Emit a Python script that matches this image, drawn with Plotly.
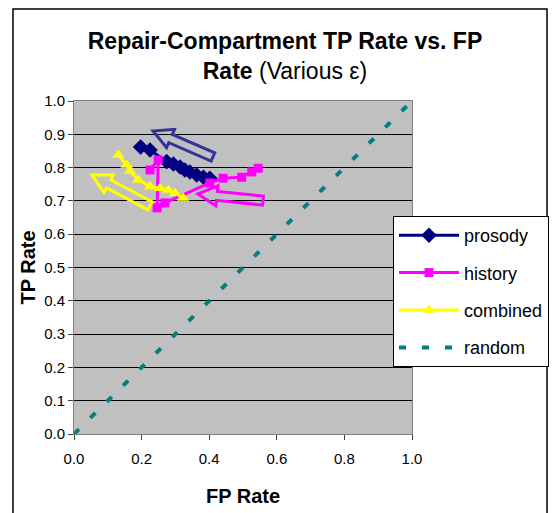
import plotly.graph_objects as go

# --- data ---
prosody_fp = [0.197, 0.225, 0.274, 0.294, 0.314, 0.328, 0.343, 0.363, 0.383, 0.402]
prosody_tp = [0.862, 0.853, 0.818, 0.811, 0.802, 0.793, 0.787, 0.778, 0.771, 0.768]

history_fp = [0.225, 0.249, 0.246, 0.269, 0.402, 0.441, 0.496, 0.526, 0.545]
history_tp = [0.793, 0.823, 0.679, 0.694, 0.754, 0.768, 0.771, 0.787, 0.798]

combined_fp = [0.131, 0.156, 0.166, 0.190, 0.225, 0.254, 0.279, 0.299, 0.323]
combined_tp = [0.838, 0.808, 0.790, 0.763, 0.743, 0.738, 0.733, 0.723, 0.709]

random_fp = [0.0, 1.0]
random_tp = [0.0, 1.0]

x_ticks = [0.0, 0.2, 0.4, 0.6, 0.8, 1.0]
y_ticks = [0.0, 0.1, 0.2, 0.3, 0.4, 0.5, 0.6, 0.7, 0.8, 0.9, 1.0]

# hollow arrows drawn on the chart: (tip, tail) in data units, colour
arrows = [
    ((0.234, 0.910), (0.411, 0.832), "#333399"),
    ((0.367, 0.721), (0.559, 0.701), "#FF00FF"),
    ((0.053, 0.778), (0.225, 0.685), "#FFFF00"),
]

# page body adds 8px, so figure pixels = screen pixels - 8
W_FIG, H_FIG = 557, 513
L, R, T, B = 66, 404, 93, 426
PW, PH = R - L, B - T

FONT = "Liberation Sans, Arial, sans-serif"

fig = go.Figure()

fig.add_trace(go.Scatter(x=prosody_fp, y=prosody_tp, name="prosody", mode="lines+markers",
                         line=dict(color="#000080", width=3),
                         marker=dict(symbol="diamond", size=12, color="#000080"),
                         legendgroup="a"))
fig.add_trace(go.Scatter(x=history_fp, y=history_tp, name="history", mode="lines+markers",
                         line=dict(color="#FF00FF", width=3),
                         marker=dict(symbol="square", size=9, color="#FF00FF"),
                         legendgroup="b"))
fig.add_trace(go.Scatter(x=combined_fp, y=combined_tp, name="combined", mode="lines+markers",
                         line=dict(color="#FFFF00", width=3),
                         marker=dict(symbol="triangle-up", size=11, color="#FFFF00"),
                         legendgroup="c"))
fig.add_trace(go.Scatter(x=random_fp, y=random_tp, name="random", mode="lines",
                         line=dict(color="#008080", width=4, dash="7px,16px"),
                         legendgroup="d"))


def arrow_path(tip, tail, hl=19, hw=10, sw=4.5):
    # work in pixels so the arrow keeps its shape, then map back to data
    tx, ty = L + tip[0] * PW, B - tip[1] * PH
    ex, ey = L + tail[0] * PW, B - tail[1] * PH
    dx, dy = ex - tx, ey - ty
    n = (dx * dx + dy * dy) ** 0.5
    ux, uy = dx / n, dy / n
    nx, ny = -uy, ux
    hx, hy = tx + ux * hl, ty + uy * hl
    pts = [(tx, ty),
           (hx + nx * hw, hy + ny * hw),
           (hx + nx * sw, hy + ny * sw),
           (ex + nx * sw, ey + ny * sw),
           (ex - nx * sw, ey - ny * sw),
           (hx - nx * sw, hy - ny * sw),
           (hx - nx * hw, hy - ny * hw)]
    d = []
    for i, (px, py) in enumerate(pts):
        d.append(("M" if i == 0 else "L") + f"{(px - L) / PW:.4f},{(B - py) / PH:.4f}")
    return " ".join(d) + " Z"


for tip, tail, col in arrows:
    fig.add_shape(type="path", path=arrow_path(tip, tail), xref="x", yref="y",
                  line=dict(color=col, width=3), fillcolor="rgba(0,0,0,0)", layer="above")

# outer chart border
fig.add_shape(type="rect", xref="paper", yref="paper",
              x0=(5 - L) / PW, x1=(539 - L) / PW, y0=(B - 520) / PH, y1=(B - 1) / PH,
              line=dict(color="black", width=1.5))

fig.update_layout(
    width=W_FIG, height=H_FIG,
    margin=dict(l=L, r=W_FIG - R, t=T, b=H_FIG - B, autoexpand=False),
    paper_bgcolor="white", plot_bgcolor="#C0C0C0",
    font=dict(family=FONT, size=15, color="black"),
    title=dict(text="<b>Repair-Compartment TP Rate vs. FP</b><br><b>Rate</b> (Various ε)",
               x=277 / W_FIG, xanchor="center", y=1 - 41 / H_FIG, yanchor="top",
               font=dict(family=FONT, size=23, color="black")),
    showlegend=True,
    legend=dict(x=(385 - L) / PW, xanchor="left", y=(B - 208) / PH, yanchor="top",
                bgcolor="white", bordercolor="black", borderwidth=1,
                font=dict(family=FONT, size=18, color="black"),
                tracegroupgap=11, itemwidth=60),
    xaxis=dict(range=[0, 1], tickvals=x_ticks, tickformat=".1f", showgrid=False, zeroline=False,
               showline=True, linecolor="#808080", linewidth=1, mirror=True, automargin=False,
               ticks="outside", ticklen=5, tickcolor="#404040", ticklabelstandoff=6,
               title=dict(text="<b>FP Rate</b>", font=dict(family=FONT, size=20), standoff=22)),
    yaxis=dict(range=[0, 1], tickvals=y_ticks, tickformat=".1f", showgrid=True,
               gridcolor="black", gridwidth=1, zeroline=False,
               showline=True, linecolor="#808080", linewidth=1, mirror=True, automargin=False,
               ticks="outside", ticklen=5, tickcolor="#404040",
               title=dict(text="<b>TP Rate</b>", font=dict(family=FONT, size=20), standoff=3)),
)

fig.write_html("out.html")
